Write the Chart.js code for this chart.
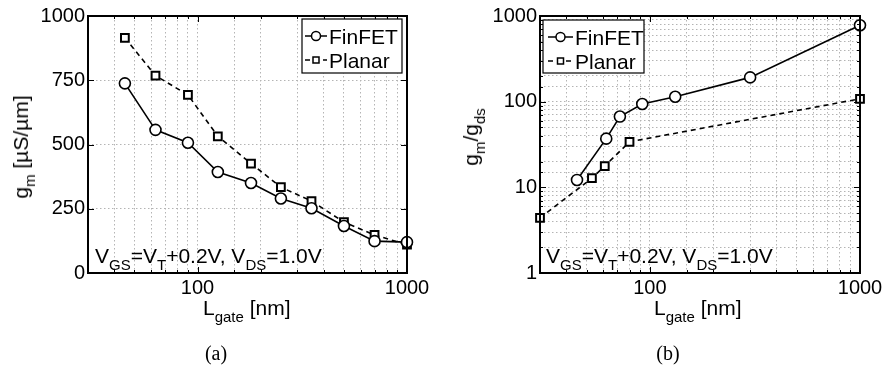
<!DOCTYPE html>
<html>
<head>
<meta charset="utf-8">
<title>FinFET vs Planar</title>
<script src="https://cdn.jsdelivr.net/npm/chart.js@4.4.1/dist/chart.umd.min.js"></script>
<style>
  body { margin: 0; background: #fff; }
  #page { position: relative; width: 887px; height: 366px; overflow: hidden;
          font-family: "Liberation Sans", Arial, Helvetica, sans-serif; color: #000; }
  canvas { position: absolute; top: 0; }
  .lbl { position: absolute; white-space: nowrap; font-size: 21px; line-height: 24px; }
  .sub { font-size: 15px; position: relative; top: 7px; }
  .rot { transform: translate(-50%, -50%) rotate(-90deg); }
  .cap { position: absolute; transform: translate(-50%, -50%); white-space: nowrap;
         font-family: "Liberation Serif", "DejaVu Serif", serif; font-size: 20px; }
</style>
</head>
<body>
<div id="page">
  <canvas id="gmChart" width="440" height="300" style="left:0"></canvas>
  <canvas id="ratioChart" width="447" height="300" style="left:440px"></canvas>

  <div class="lbl rot" style="left:22px; top:147px">g<span class="sub">m</span> [µS/µm]</div>
  <div class="lbl rot" style="left:472px; top:137px">g<span class="sub">m</span>/g<span class="sub">ds</span></div>

  <div class="lbl" style="left:95px; top:244px">V<span class="sub">GS</span>=V<span class="sub">T</span>+0.2V, V<span class="sub">DS</span>=1.0V</div>
  <div class="lbl" style="left:546px; top:244px">V<span class="sub">GS</span>=V<span class="sub">T</span>+0.2V, V<span class="sub">DS</span>=1.0V</div>

  <div class="lbl" style="left:203px; top:296px">L<span class="sub">gate</span> [nm]</div>
  <div class="lbl" style="left:654px; top:296px">L<span class="sub">gate</span> [nm]</div>

  <div class="cap" style="left:216px; top:353px">(a)</div>
  <div class="cap" style="left:668px; top:353px">(b)</div>
</div>

<script>
// (a) transconductance vs gate length
const lengthA = [45, 63, 90, 125, 180, 250, 350, 500, 700, 1000];
const gmFinFET = [738, 557, 507, 393, 350, 290, 252, 183, 124, 120];
const gmPlanar = [915, 768, 693, 532, 426, 334, 280, 198, 148, 110];

// (b) intrinsic gain vs gate length
const lengthFinB = [45, 62, 72, 92, 132, 300, 1000];
const ratioFinFET = [12.2, 37, 67, 94, 114, 192, 780];
const lengthPlanarB = [30, 53, 61, 80, 1000];
const ratioPlanar = [4.4, 12.8, 17.7, 34, 108];

const xTickLabels = [100, 1000];
const gmTicks = [0, 250, 500, 750, 1000];
const ratioTicks = [1, 10, 100, 1000];

const FONT = '"Liberation Sans", Arial, Helvetica, sans-serif';
const GRID = "#b4b4b4";

function points(xs, ys) {
  return xs.map((x, i) => ({ x: x, y: ys[i] }));
}

function finfetSet(data) {
  return {
    label: "FinFET", data: data,
    borderColor: "#000", borderWidth: 1.6,
    pointStyle: "circle", pointRadius: 5.5, pointBorderWidth: 1.6,
    pointBackgroundColor: "#fff", pointBorderColor: "#000",
    clip: false
  };
}

function planarSet(data) {
  return {
    label: "Planar", data: data,
    borderColor: "#000", borderWidth: 1.6, borderDash: [5, 4],
    pointStyle: "rect", pointRadius: 5.5, pointBorderWidth: 2,
    pointBackgroundColor: "#fff", pointBorderColor: "#000",
    clip: false
  };
}

function onList(list) {
  return (v) => list.some((t) => Math.abs(t - v) < 1e-6 * Math.max(1, t)) ? String(v) : "";
}

// box, inward ticks and the "-o-" style legend
const framePlugin = {
  id: "frame",
  afterDraw(chart, args, opts) {
    const ctx = chart.ctx;
    const a = chart.chartArea;
    const sx = chart.scales.x;
    const sy = chart.scales.y;
    const line = (x1, y1, x2, y2) => { ctx.beginPath(); ctx.moveTo(x1, y1); ctx.lineTo(x2, y2); ctx.stroke(); };

    ctx.save();
    ctx.strokeStyle = "#000";
    ctx.lineWidth = 1;
    sx.ticks.forEach((t) => {
      const px = Math.round(sx.getPixelForValue(t.value)) + 0.5;
      const len = t.label ? 6 : 3;
      line(px, a.bottom, px, a.bottom - len);
      line(px, a.top, px, a.top + len);
    });
    sy.ticks.forEach((t) => {
      const py = Math.round(sy.getPixelForValue(t.value)) + 0.5;
      const len = t.label ? 6 : 3;
      line(a.left, py, a.left + len, py);
      line(a.right, py, a.right - len, py);
    });
    ctx.lineWidth = 2;
    ctx.strokeRect(a.left, a.top, a.right - a.left, a.bottom - a.top);

    // legend
    const b = opts.box;
    ctx.fillStyle = "#fff";
    ctx.fillRect(b[0], b[1], b[2], b[3]);
    ctx.lineWidth = 1.2;
    ctx.strokeRect(b[0], b[1], b[2], b[3]);
    ctx.font = "21px " + FONT;
    ctx.textBaseline = "alphabetic";
    chart.data.datasets.forEach((ds, i) => {
      const y = opts.rows[i];
      const mid = (opts.sample[0] + opts.sample[1]) / 2;
      ctx.strokeStyle = "#000";
      ctx.lineWidth = 1.5;
      ctx.setLineDash(ds.borderDash || []);
      line(opts.sample[0], y, opts.sample[1], y);
      ctx.setLineDash([]);
      ctx.fillStyle = "#fff";
      ctx.beginPath();
      if (ds.pointStyle === "rect") {
        ctx.rect(mid - 3, y - 3, 6, 6);
      } else {
        ctx.arc(mid, y, 4.5, 0, Math.PI * 2);
      }
      ctx.fill();
      ctx.stroke();
      ctx.fillStyle = "#000";
      ctx.fillText(ds.label, opts.textX, y + 7.5);
    });
    ctx.restore();
  }
};

function makeChart(id, datasets, yScale, pad, yWidth, legend) {
  return new Chart(document.getElementById(id), {
    type: "line",
    data: { datasets: datasets },
    options: {
      responsive: false,
      animation: false,
      devicePixelRatio: 1,
      layout: { padding: pad },
      plugins: {
        legend: { display: false },
        tooltip: { enabled: false },
        frame: legend
      },
      scales: {
        x: {
          type: "logarithmic", min: 30, max: 1000,
          afterFit: (s) => { s.height = 27; },
          grid: { color: GRID, lineWidth: 1, drawTicks: false },
          border: { display: false, dash: [1.5, 2.5] },
          ticks: {
            autoSkip: false, maxRotation: 0, padding: 3, color: "#000",
            font: { family: FONT, size: 20 },
            callback: onList(xTickLabels)
          }
        },
        y: Object.assign({
          afterFit: (s) => { s.width = yWidth; },
          grid: { color: GRID, lineWidth: 1, drawTicks: false },
          border: { display: false, dash: [1.5, 2.5] }
        }, yScale)
      }
    },
    plugins: [framePlugin]
  });
}

makeChart("gmChart",
  [finfetSet(points(lengthA, gmFinFET)), planarSet(points(lengthA, gmPlanar))],
  {
    type: "linear", min: 0, max: 1000,
    ticks: {
      stepSize: 250, padding: 3, color: "#000",
      font: { family: FONT, size: 20 },
      callback: onList(gmTicks)
    }
  },
  { left: 0, top: 16, right: 33, bottom: 0 }, 88,
  { box: [302, 19, 100, 54], sample: [305, 327], textX: 329, rows: [36, 60] }
);

makeChart("ratioChart",
  [finfetSet(points(lengthFinB, ratioFinFET)), planarSet(points(lengthPlanarB, ratioPlanar))],
  {
    type: "logarithmic", min: 1, max: 1000,
    ticks: {
      autoSkip: false, padding: 3, color: "#000",
      font: { family: FONT, size: 20 },
      callback: onList(ratioTicks)
    }
  },
  { left: 0, top: 16, right: 27, bottom: 0 }, 100,
  { box: [103, 20, 101, 53], sample: [108, 133], textX: 135, rows: [37, 61] }
);
</script>
</body>
</html>
